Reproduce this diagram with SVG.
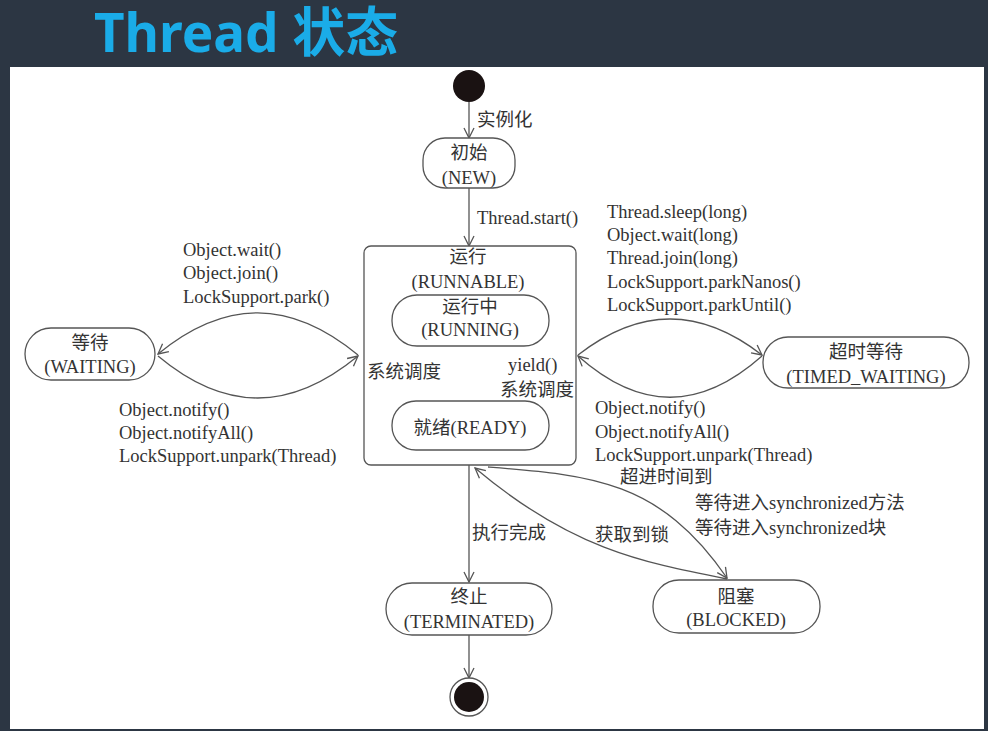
<svg xmlns="http://www.w3.org/2000/svg" width="988" height="731" viewBox="0 0 988 731">
<style>
.t{font-family:"Liberation Serif","Noto Sans CJK SC",serif;font-size:18.5px;fill:#333}
.c{text-anchor:middle}
.n{fill:#fff;stroke:#555;stroke-width:1.3}
.e{fill:none;stroke:#555;stroke-width:1.3}
</style>
<defs>
<marker id="ah" viewBox="0 0 12 12" refX="11" refY="6" markerWidth="12" markerHeight="12" markerUnits="userSpaceOnUse" orient="auto">
<path d="M1,1 L11,6 L1,11" fill="none" stroke="#555" stroke-width="1.3"/>
</marker>
</defs>
<rect x="0" y="0" width="988" height="731" fill="#2c3643"/>
<rect x="10" y="67" width="974" height="662" fill="#fff"/>
<text x="94" y="52" style="font-family:'Noto Sans','Noto Sans CJK SC',sans-serif;font-size:53px;font-weight:bold;fill:#1aace8">Thread 状态</text>

<g id="connectors">
<line class="e" x1="469" y1="102" x2="469" y2="138" marker-end="url(#ah)"/>
<line class="e" x1="469" y1="188" x2="469" y2="246" marker-end="url(#ah)"/>
<path class="e" d="M358 355 C290 299 225 299 158 354" marker-end="url(#ah)"/>
<path class="e" d="M158 356 C225 412 290 412 358 356" marker-end="url(#ah)"/>
<path class="e" d="M578 355 C640 307 700 307 762 355" marker-end="url(#ah)"/>
<path class="e" d="M762 356 C700 411 640 411 578 356" marker-end="url(#ah)"/>
<path class="e" d="M466 401 C440 388 444 358 465 347" marker-end="url(#ah)"/>
<path class="e" d="M469 347 C496 360 492 388 472 401" marker-end="url(#ah)"/>
<line class="e" x1="469" y1="465" x2="469" y2="582" marker-end="url(#ah)"/>
<line class="e" x1="469" y1="635" x2="469" y2="678" marker-end="url(#ah)"/>
<path class="e" d="M488 467 C590 475 660 480 727 578" marker-end="url(#ah)"/>
<path class="e" d="M727 579 C640 562 570 548 475 468" marker-end="url(#ah)"/>
</g>

<g id="start"><circle cx="469" cy="86" r="16" fill="#1a1212"/></g>
<text class="t" x="477" y="126">实例化</text>

<g id="new">
<rect class="n" x="423" y="138" width="92" height="50" rx="22"/>
<text class="t c" x="469" y="159">初始</text>
<text class="t c" x="469" y="184">(NEW)</text>
</g>
<text class="t" x="477" y="224">Thread.start()</text>

<g id="runnable">
<rect class="n" x="364" y="246" width="212" height="219" rx="7"/>
<text class="t c" x="468" y="263">运行</text>
<text class="t c" x="468" y="288">(RUNNABLE)</text>
</g>
<g id="running">
<rect class="n" x="392" y="295" width="157" height="51" rx="25"/>
<text class="t c" x="470" y="313">运行中</text>
<text class="t c" x="470" y="336">(RUNNING)</text>
</g>
<g id="ready">
<rect class="n" x="392" y="401" width="157" height="49" rx="24"/>
<text class="t c" x="470" y="434">就绪(READY)</text>
</g>
<text class="t" x="367" y="378">系统调度</text>
<text class="t" x="508" y="371">yield()</text>
<text class="t" x="500" y="396">系统调度</text>

<g id="waiting">
<rect class="n" x="25" y="328" width="130" height="52" rx="26"/>
<text class="t c" x="90" y="349">等待</text>
<text class="t c" x="90" y="373">(WAITING)</text>
</g>
<text class="t" x="183" y="256">Object.wait()</text>
<text class="t" x="183" y="279">Object.join()</text>
<text class="t" x="183" y="303">LockSupport.park()</text>
<text class="t" x="119" y="416">Object.notify()</text>
<text class="t" x="119" y="439">Object.notifyAll()</text>
<text class="t" x="119" y="462">LockSupport.unpark(Thread)</text>

<g id="timed_waiting">
<rect class="n" x="763" y="337" width="206" height="51" rx="25"/>
<text class="t c" x="866" y="358">超时等待</text>
<text class="t c" x="866" y="383">(TIMED_WAITING)</text>
</g>
<text class="t" x="607" y="218">Thread.sleep(long)</text>
<text class="t" x="607" y="241">Object.wait(long)</text>
<text class="t" x="607" y="264">Thread.join(long)</text>
<text class="t" x="607" y="288">LockSupport.parkNanos()</text>
<text class="t" x="607" y="311">LockSupport.parkUntil()</text>
<text class="t" x="595" y="414">Object.notify()</text>
<text class="t" x="595" y="438">Object.notifyAll()</text>
<text class="t" x="595" y="461">LockSupport.unpark(Thread)</text>
<text class="t" x="620" y="483">超进时间到</text>
<text class="t" x="695" y="509">等待进入synchronized方法</text>
<text class="t" x="695" y="534">等待进入synchronized块</text>
<text class="t" x="595" y="541">获取到锁</text>
<text class="t" x="472" y="539">执行完成</text>

<g id="terminated">
<rect class="n" x="386" y="583" width="166" height="52" rx="26"/>
<text class="t c" x="469" y="603">终止</text>
<text class="t c" x="469" y="628">(TERMINATED)</text>
</g>
<g id="blocked">
<rect class="n" x="653" y="580" width="167" height="53" rx="26"/>
<text class="t c" x="736" y="603">阻塞</text>
<text class="t c" x="736" y="626">(BLOCKED)</text>
</g>
<g id="end">
<circle cx="469" cy="697" r="19" fill="#fff" stroke="#555" stroke-width="1.3"/>
<circle cx="469" cy="697" r="15" fill="#1a1212"/>
</g>
</svg>
